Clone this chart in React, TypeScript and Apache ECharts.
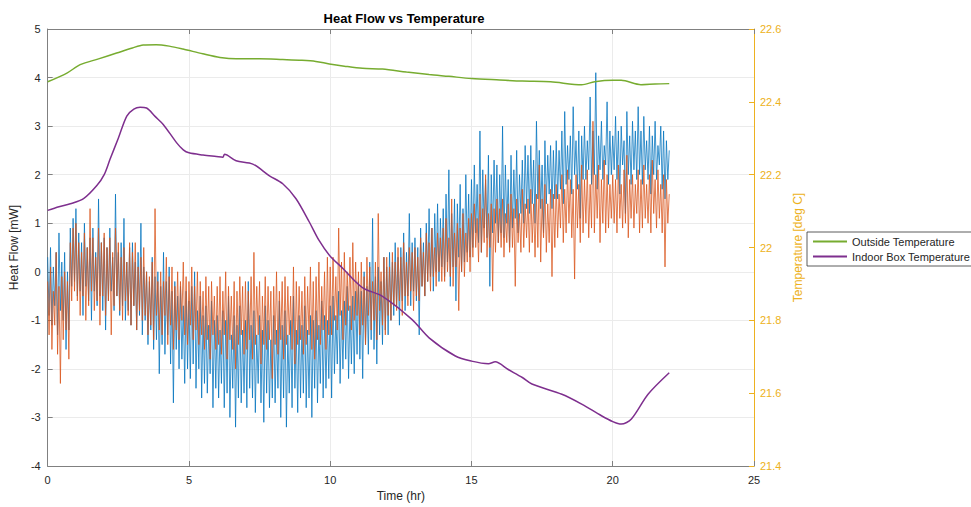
import React, { useEffect, useRef } from "react";
import * as echarts from "echarts";

// sampling step of the two heat-flow records (hours)
const sampleStep = 0.05;

// Heat flow sensor 1 (blue), one value per sample, t = 0 .. 22 h (20 samples per hour)
const heatFlowA = [
  0.3, -0.9, 0.5, -1.1, 0.1, -0.7, 0.4, -1.3, 0.8, -0.8, 0.2, -1.0, 0.4, -1.6, 0.0, -1.2, 0.9, -0.3, 1.1, -0.2,
  1.3, -0.5, 0.8, -0.4, 0.6, -0.9, 1.0, -0.3, 0.5, -0.6, 0.7, -1.0, 0.9, -0.4, 0.4, -0.7, 1.5, -0.5, 0.6, -0.8,
  0.7, -1.2, 0.5, -0.6, 0.9, -0.4, 0.3, -0.8, 1.6, -0.5, 0.4, -0.9, 0.6, -0.7, 1.1, -1.0, 0.2, -0.8, 0.5, -1.1,
  0.6, -0.7, 0.2, -1.2, 0.4, -0.9, 1.0, -1.3, 0.1, -1.0, 0.0, -1.5, -0.2, -1.2, 0.3, -1.6, -0.1, -1.4, 0.0, -2.1,
  -0.3, -1.5, 0.4, -1.7, -0.2, -1.3, 0.1, -1.9, -0.4, -2.7, -0.2, -1.6, -0.5, -2.0, -0.3, -1.8, -0.7, -2.3, -0.4, -2.0,
  -0.6, -2.2, -0.3, -1.9, 0.0, -2.4, -0.8, -2.0, -0.5, -2.6, -0.9, -2.3, -0.7, -2.5, -1.1, -2.1, -0.6, -2.8, -1.0, -2.4,
  -0.9, -2.6, -1.2, -2.3, -0.8, -2.8, -1.0, -2.5, -0.5, -3.0, -1.3, -2.4, -0.9, -3.2, -1.1, -2.6, -0.7, -2.7, -1.2, -2.5,
  -1.0, -2.8, -0.2, -2.4, -1.1, -2.6, -0.8, -2.9, -1.3, -2.3, -0.9, -2.7, -1.2, -3.1, -0.7, -2.5, -1.0, -2.8, -1.4, -2.6,
  -0.9, -2.7, -1.2, -2.4, -0.6, -3.0, -1.1, -2.6, -0.8, -3.2, -1.3, -2.5, -1.0, -2.8, -0.5, -2.4, -1.2, -2.9, -0.9, -2.6,
  -1.1, -2.5, -0.7, -2.8, -1.2, -2.6, -0.9, -3.0, -1.0, -2.4, -0.8, -2.7, -1.1, -2.3, -0.6, -2.6, -0.9, -2.4, -1.0, -2.2,
  -0.7, -2.6, -0.5, -2.1, -0.9, -1.9, -0.4, -2.3, -0.8, -2.0, -0.6, -1.8, -0.3, -2.2, -0.7, -1.9, -0.5, -2.1, -0.4, -1.7,
  -0.2, -1.8, -0.4, -2.2, 0.0, -1.5, -0.3, -1.7, 0.2, -1.4, 1.1, -1.6, -0.1, -1.9, 0.1, -1.3, -0.2, -1.5, 0.3, -1.2,
  0.1, -1.3, 0.4, -1.0, 0.2, -0.9, 0.6, -0.7, 0.3, -1.1, 0.5, -0.6, 0.8, -0.8, 0.4, -0.5, 1.2, -0.7, 0.6, -0.4,
  0.7, -0.6, 0.5, -1.3, 0.9, -0.3, 0.6, -0.5, 1.0, -0.2, 1.3, -0.1, 0.9, -0.4, 1.2, 0.0, 1.4, -0.2, 1.1, 0.1,
  1.3, -0.1, 1.6, 0.2, 2.1, -0.3, 1.2, 0.1, 1.5, -0.6, 1.4, 0.3, 1.8, 0.0, 1.3, 0.2, 2.0, 0.4, 1.6, 0.3,
  1.9, 0.5, 2.2, 0.8, 1.8, 0.6, 2.9, 0.4, 2.1, 0.9, 1.9, 0.7, 2.4, -0.3, 2.0, 0.8, 2.3, 1.0, 2.2, 0.6,
  2.0, 0.8, 3.0, 0.7, 2.2, 1.0, 1.9, 0.5, 2.4, 0.9, 2.1, 1.1, 2.5, 0.8, 2.0, 1.2, 2.3, 1.0, 2.6, 1.3,
  2.4, 1.2, 2.6, 1.4, 2.3, 1.0, 3.1, 1.5, 2.5, 1.3, 2.2, 0.8, 2.7, 1.4, 2.4, 1.6, 2.6, 1.3, 2.5, 1.5,
  2.7, 1.5, 2.5, 1.7, 2.9, 1.4, 3.3, 1.8, 2.6, 1.9, 2.8, 1.6, 3.4, 2.0, 2.7, 1.7, 2.9, 1.1, 2.8, 1.9,
  3.0, 1.9, 2.7, 2.1, 3.6, 1.8, 2.9, 2.0, 4.1, 1.7, 2.8, 2.1, 3.1, 1.9, 2.6, 2.2, 3.5, 1.8, 2.9, 2.0,
  2.8, 2.1, 3.2, 1.9, 2.9, 1.6, 3.0, 2.2, 2.7, 1.2, 3.3, 2.0, 2.8, 1.8, 3.1, 2.1, 2.9, 1.9, 3.4, 2.0,
  2.9, 1.8, 3.2, 2.1, 2.7, 1.9, 3.0, 1.6, 2.8, 2.0, 3.1, 1.9, 2.6, 2.2, 3.0, 1.7, 2.9, 1.5, 2.7, 1.9,
  2.5,
];

// Heat flow sensor 2 (orange), one value per sample, t = 0 .. 22 h (20 samples per hour)
const heatFlowB = [
  -0.2, -1.3, 0.1, -1.6, -0.4, -1.1, 0.4, -1.7, -0.3, -2.3, -0.1, -1.4, 0.0, -1.2, -0.2, -1.8, 0.6, -0.6, 0.9, -0.4,
  1.0, -0.6, 0.6, -0.9, 0.4, -0.5, 0.8, -1.0, 0.5, -0.7, 1.3, -0.4, 0.7, -0.8, 0.3, -0.6, 0.9, -1.1, 0.6, -0.5,
  0.8, -0.9, 0.5, -0.6, 0.7, -1.3, 0.4, -0.7, 0.9, -0.5, 0.6, -0.8, 0.3, -1.0, 0.5, -0.6, 0.2, -0.9, 0.6, -1.1,
  0.4, -0.7, 0.6, -1.2, 0.1, -0.8, 0.3, -1.0, 0.5, -0.9, 0.0, -1.3, -0.1, -1.1, 0.2, -1.4, 1.3, -0.9, -0.2, -1.2,
  0.0, -1.3, -0.2, -0.9, 0.3, -1.5, -0.1, -1.1, 0.1, -1.6, -0.3, -1.2, 0.0, -1.4, -0.2, -1.0, 0.2, -1.3, -0.1, -1.5,
  -0.2, -1.1, 0.1, -1.4, -0.3, -1.2, 0.0, -1.5, -0.2, -1.3, -0.4, -1.6, -0.1, -1.4, -0.3, -1.8, -0.2, -1.3, -0.5, -1.6,
  -0.3, -1.5, -0.1, -1.7, -0.4, -1.3, 0.0, -1.8, -0.3, -1.4, -0.5, -1.6, -0.2, -2.0, -0.4, -1.5, -0.1, -1.3, -0.3, -1.7,
  -0.2, -1.6, -0.4, -1.4, -0.1, -1.8, 0.4, -1.5, -0.3, -1.3, -0.2, -1.9, -0.5, -1.5, -0.1, -1.6, -0.3, -1.4, -0.4, -2.2,
  -0.3, -1.5, 0.0, -1.7, -0.4, -1.4, -0.2, -1.8, -0.1, -1.5, -0.3, -1.3, -0.5, -1.6, 0.1, -1.9, -0.2, -1.5, -0.3, -1.4,
  -0.4, -1.7, -0.1, -1.5, -0.3, -1.3, 0.1, -1.6, -0.2, -1.8, -0.1, -1.4, 0.2, -1.5, -0.3, -1.2, 0.0, -1.6, 0.3, -1.3,
  0.1, -1.3, 0.3, -1.0, -0.1, -1.2, 0.9, -0.9, 0.2, -1.4, 0.4, -1.1, 0.0, -0.8, 0.3, -1.2, 0.6, -1.0, 0.2, -0.9,
  0.0, -1.3, 0.2, -1.1, -0.1, -1.5, 0.3, -0.9, 0.1, -1.2, -0.2, -1.0, 0.2, -1.4, 1.2, -0.8, 0.0, -1.1, 0.3, -1.3,
  0.3, -0.9, 0.1, -1.0, 0.4, -0.7, 0.2, -0.8, 0.5, -0.6, 0.3, -0.9, 0.6, -0.5, 0.2, -0.7, 0.5, -0.4, 0.4, -0.8,
  0.5, -0.5, 0.3, -0.6, 0.7, -0.3, 0.4, -0.5, 0.8, -0.2, 0.6, -0.4, 0.9, -0.1, 0.5, -0.3, 0.8, 0.0, 0.7, -0.2,
  0.9, -0.2, 1.1, 0.0, 0.7, -0.1, 1.5, -0.3, 0.8, 0.1, 1.0, -0.8, 0.9, 0.0, 1.2, -0.1, 0.8, 0.2, 1.1, 0.0,
  1.2, 0.3, 1.4, 0.5, 1.1, 0.2, 1.6, 0.4, 1.3, 0.6, 2.0, 0.3, 1.2, 0.5, 1.4, -0.4, 1.3, 0.4, 1.5, 0.6,
  1.3, 0.5, 1.5, 0.3, 1.2, 0.6, 1.4, 0.4, 1.6, 0.5, 1.3, -0.3, 1.5, 0.6, 1.2, 0.4, 1.7, 0.5, 1.4, 0.7,
  1.5, 0.4, 1.7, 0.6, 1.4, 0.3, 1.6, 0.5, 2.2, 0.2, 1.5, 0.7, 1.8, 0.4, 1.4, 0.6, 1.7, -0.1, 1.6, 0.5,
  1.8, 0.7, 1.6, 0.9, 2.0, 0.6, 1.7, 0.8, 2.1, 1.0, 1.9, 0.7, 1.7, -0.15, 2.0, 0.9, 1.8, 0.6, 2.2, 0.8,
  1.9, 1.0, 2.1, 0.7, 1.8, 0.9, 3.1, 0.8, 2.0, 1.1, 2.2, 0.6, 1.9, 1.0, 2.3, 0.8, 2.0, 0.9, 1.8, 1.1,
  2.0, 1.0, 1.9, 0.8, 2.2, 1.1, 1.8, 0.9, 2.1, 1.0, 2.4, 0.7, 1.9, 1.1, 2.0, 0.9, 1.8, 1.2, 2.1, 0.8,
  1.9, 0.9, 2.2, 1.1, 1.8, 1.0, 2.0, 0.8, 2.3, 1.2, 1.9, 0.9, 2.1, 1.1, 1.8, 0.8, 2.0, 0.1, 1.9, 1.0,
  1.6,
];

// Outside temperature (green, right axis)
const outsideTime = [
  0, 0.68, 1.15, 1.8, 2.44, 3.0, 3.38, 3.84, 4.3, 4.79, 5.49, 6.1, 6.67, 7.5,
  8.32, 9.0, 9.49, 9.97, 10.5, 11.14, 11.85, 12.7, 13.5, 14.2, 15.0, 16.0,
  16.8, 17.8, 18.9, 19.36, 20.0, 20.3, 21.0, 21.5, 22.0,
];
const outsideTemp = [
  22.455, 22.479, 22.502, 22.518, 22.534, 22.548, 22.556, 22.557, 22.553,
  22.545, 22.532, 22.522, 22.518, 22.518, 22.516, 22.514, 22.511, 22.504,
  22.498, 22.492, 22.49, 22.482, 22.475, 22.47, 22.464, 22.46, 22.457, 22.455,
  22.447, 22.455, 22.459, 22.459, 22.447, 22.449, 22.45,
];

// Indoor box temperature (purple, right axis)
const indoorTime = [
  0, 0.4, 0.8, 1.27, 1.74, 2.0, 2.21, 2.5, 2.8, 3.05, 3.27, 3.5, 3.8, 4.09,
  4.56, 4.8, 5.0, 5.5, 5.97, 6.2, 6.26, 6.67, 7.26, 7.85, 8.32, 8.79, 9.26,
  9.6, 9.97, 10.44, 11.14, 11.85, 12.9, 13.5, 14.43, 15.0, 15.6, 15.84, 16.3,
  16.8, 17.14, 18.2, 18.9, 19.6, 20.0, 20.3, 20.66, 21.25, 22.0,
];
const indoorTemp = [
  22.102, 22.112, 22.12, 22.134, 22.17, 22.2, 22.243, 22.3, 22.361, 22.38,
  22.385, 22.383, 22.36, 22.338, 22.288, 22.268, 22.26, 22.254, 22.25, 22.248,
  22.256, 22.238, 22.229, 22.197, 22.175, 22.134, 22.07, 22.02, 21.979,
  21.943, 21.89, 21.866, 21.802, 21.752, 21.702, 21.688, 21.681, 21.686,
  21.665, 21.643, 21.625, 21.597, 21.57, 21.538, 21.522, 21.515, 21.529,
  21.597, 21.656,
];

const legendNames = ["Outside Temperature", "Indoor Box Temperature"];

const FONT = "'Liberation Sans', Arial, Helvetica, sans-serif";
const AXIS_GRAY = "#808080";
const TEXT = "#262626";
const ORANGE_AXIS = "#EDB120";

export default function App() {
  const ref = useRef<HTMLDivElement>(null);

  useEffect(() => {
    if (!ref.current) return;
    const chart = echarts.init(ref.current, null, { renderer: "svg" });
    const sampled = (vs: number[]) =>
      vs.map((v, i) => [Math.round(i * sampleStep * 100) / 100, v]);
    const paired = (ts: number[], vs: number[]) => ts.map((t, i) => [t, vs[i]]);

    chart.setOption({
      animation: false,
      textStyle: { fontFamily: FONT },
      title: {
        text: "Heat Flow vs Temperature",
        left: 399,
        top: 7,
        textAlign: "center",
        textStyle: { fontSize: 13, fontWeight: "bold", color: "#000", fontFamily: FONT },
      },
      legend: {
        data: legendNames,
        orient: "vertical",
        left: 807,
        top: 232,
        icon: "rect",
        itemWidth: 34,
        itemHeight: 2,
        itemGap: 4,
        padding: [4, 2, 4, 6],
        borderColor: "#333",
        borderWidth: 0.8,
        selectedMode: false,
        textStyle: { fontSize: 11, color: TEXT, fontFamily: FONT },
      },
      grid: { left: 44, right: 217, top: 29, bottom: 38, containLabel: false },
      xAxis: [
        {
          type: "value",
          min: 0,
          max: 25,
          interval: 5,
          position: "bottom",
          name: "Time (hr)",
          nameLocation: "middle",
          nameGap: 24,
          nameTextStyle: { color: TEXT, fontSize: 12, fontFamily: FONT },
          axisLine: { show: true, onZero: false, lineStyle: { color: AXIS_GRAY, width: 1 } },
          axisTick: { show: true, inside: true, length: 5, lineStyle: { color: AXIS_GRAY } },
          axisLabel: { color: TEXT, fontSize: 11, margin: 8, fontFamily: FONT },
          splitLine: { show: true, lineStyle: { color: "#ebebeb", width: 1 } },
        },
        {
          type: "value",
          min: 0,
          max: 25,
          interval: 5,
          position: "top",
          axisLine: { show: true, onZero: false, lineStyle: { color: AXIS_GRAY, width: 1 } },
          axisTick: { show: true, inside: true, length: 5, lineStyle: { color: AXIS_GRAY } },
          axisLabel: { show: false },
          splitLine: { show: false },
        },
      ],
      yAxis: [
        {
          type: "value",
          min: -4,
          max: 5,
          interval: 1,
          position: "left",
          name: "Heat Flow [mW]",
          nameLocation: "middle",
          nameGap: 19,
          nameTextStyle: { color: TEXT, fontSize: 12, fontFamily: FONT },
          axisLine: { show: true, onZero: false, lineStyle: { color: AXIS_GRAY, width: 1 } },
          axisTick: { show: true, inside: true, length: 5, lineStyle: { color: AXIS_GRAY } },
          axisLabel: { color: TEXT, fontSize: 11, margin: 7, fontFamily: FONT },
          splitLine: { show: true, lineStyle: { color: "#ebebeb", width: 1 } },
        },
        {
          type: "value",
          min: 21.4,
          max: 22.6,
          interval: 0.2,
          position: "right",
          name: "Temperature [deg C]",
          nameLocation: "middle",
          nameRotate: 90,
          nameGap: 35,
          nameTextStyle: { color: ORANGE_AXIS, fontSize: 12, fontFamily: FONT },
          axisLine: { show: true, onZero: false, lineStyle: { color: ORANGE_AXIS, width: 1 } },
          axisTick: { show: true, inside: true, length: 5, lineStyle: { color: ORANGE_AXIS } },
          axisLabel: {
            color: ORANGE_AXIS,
            fontSize: 11,
            margin: 6,
            fontFamily: FONT,
            formatter: (v: number) => String(+v.toFixed(1)),
          },
          splitLine: { show: false },
        },
      ],
      series: [
        {
          name: "Heat Flow 1",
          type: "line",
          xAxisIndex: 0,
          yAxisIndex: 0,
          data: sampled(heatFlowA),
          symbol: "none",
          silent: true,
          lineStyle: { color: "#0072BD", width: 0.9, opacity: 0.85 },
          itemStyle: { color: "#0072BD" },
        },
        {
          name: "Heat Flow 2",
          type: "line",
          xAxisIndex: 0,
          yAxisIndex: 0,
          data: sampled(heatFlowB),
          symbol: "none",
          silent: true,
          lineStyle: { color: "#D95319", width: 0.9, opacity: 0.85 },
          itemStyle: { color: "#D95319" },
        },
        {
          name: legendNames[0],
          type: "line",
          xAxisIndex: 0,
          yAxisIndex: 1,
          data: paired(outsideTime, outsideTemp),
          symbol: "none",
          smooth: 0.3,
          silent: true,
          lineStyle: { color: "#77AC30", width: 1.5 },
          itemStyle: { color: "#77AC30" },
        },
        {
          name: legendNames[1],
          type: "line",
          xAxisIndex: 0,
          yAxisIndex: 1,
          data: paired(indoorTime, indoorTemp),
          symbol: "none",
          smooth: 0.3,
          silent: true,
          lineStyle: { color: "#7E2F8E", width: 1.5 },
          itemStyle: { color: "#7E2F8E" },
        },
      ],
    });

    return () => chart.dispose();
  }, []);

  return (
    <div
      ref={ref}
      style={{ position: "absolute", left: 0, top: 0, width: 971, height: 507, background: "#fff" }}
    />
  );
}
